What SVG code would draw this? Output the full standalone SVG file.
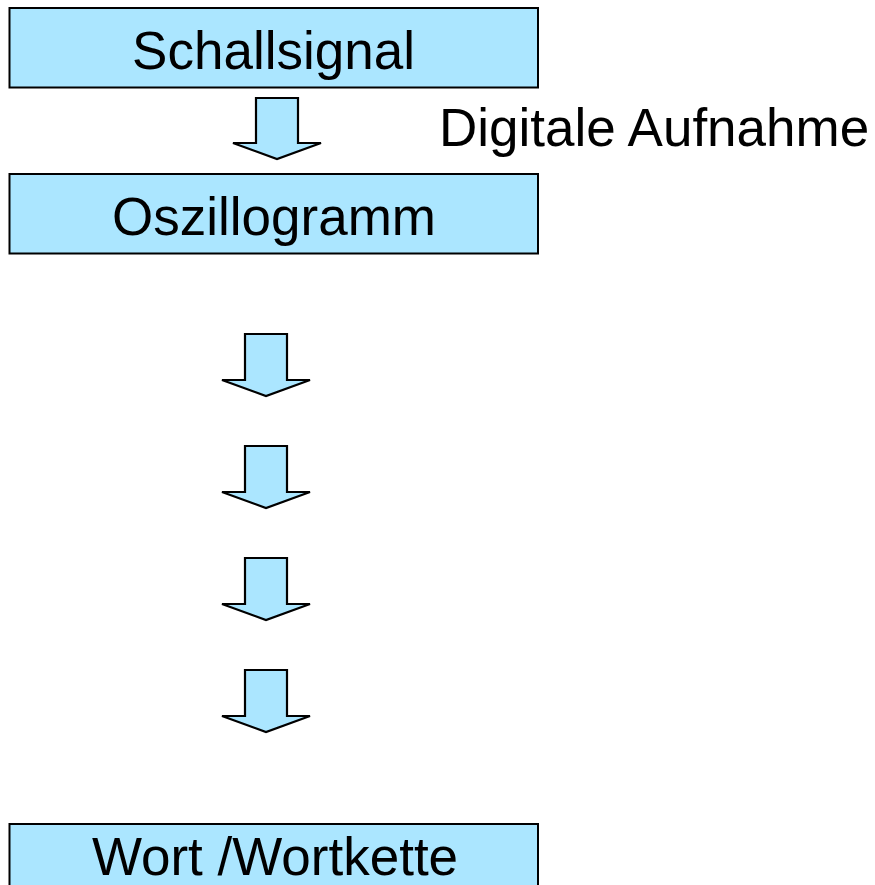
<svg xmlns="http://www.w3.org/2000/svg" width="875" height="885" viewBox="0 0 875 885">
<style>
.box{fill:#ABE6FF;stroke:#000;stroke-width:2}
.arr{fill:#ABE6FF;stroke:#000;stroke-width:2.2;stroke-linejoin:miter}
.t{font-family:"Liberation Sans",Arial,sans-serif;font-size:53px;fill:#000}
</style>
<rect width="875" height="885" fill="#fff"/>
<g id="n1"><rect class="box" x="9.5" y="8" width="528.5" height="79.5"/><text class="t" x="273.5" y="69" text-anchor="middle">Schallsignal</text></g>
<g id="n2"><rect class="box" x="9.5" y="174" width="528.5" height="79.5"/><text class="t" x="274" y="235" text-anchor="middle">Oszillogramm</text></g>
<g id="n3"><rect class="box" x="9.5" y="824" width="528.5" height="80"/><text class="t" x="275" y="875" text-anchor="middle">Wort /Wortkette</text></g>
<g id="label"><text class="t" x="439" y="146">Digitale Aufnahme</text></g>
<g id="connectors">
<path class="arr" d="M256,98 H298 V143 H321 L277,159 L233,143 H256 Z"/>
<path class="arr" d="M245,334 H287 V380 H310 L266,396 L222,380 H245 Z"/>
<path class="arr" d="M245,446 H287 V492 H310 L266,508 L222,492 H245 Z"/>
<path class="arr" d="M245,558 H287 V604 H310 L266,620 L222,604 H245 Z"/>
<path class="arr" d="M245,670 H287 V716 H310 L266,732 L222,716 H245 Z"/>
</g>
</svg>
